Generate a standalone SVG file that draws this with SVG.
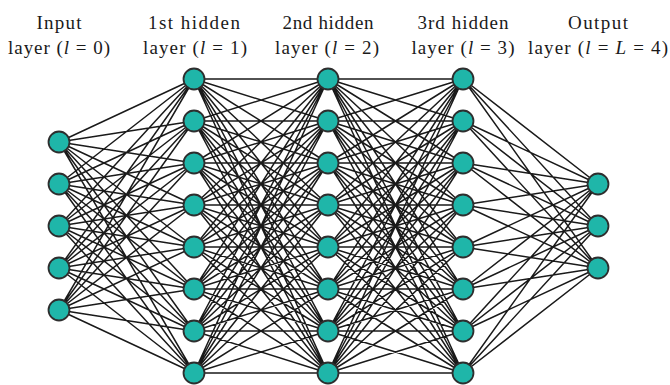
<svg xmlns="http://www.w3.org/2000/svg" width="670" height="385" viewBox="0 0 670 385">
<style>
.t{font-family:"Liberation Serif","Times New Roman",serif;font-size:19px;fill:#1a1a1a;text-anchor:middle}
.i{font-style:italic}
.e{fill:none;stroke:#1a1a1a;stroke-width:1.5}
.n circle{fill:#1fb6a9;stroke:#2e2e2e;stroke-width:1.8}
</style>
<rect width="670" height="385" fill="#fff"/>
<g id="labels">
<text class="t" x="59" y="29" textLength="45" lengthAdjust="spacing">Input</text>
<text class="t" x="59" y="54" textLength="102" lengthAdjust="spacing">layer (<tspan class="i">l</tspan> = 0)</text>
<text class="t" x="194" y="29" textLength="92" lengthAdjust="spacing">1st hidden</text>
<text class="t" x="195" y="54" textLength="104" lengthAdjust="spacing">layer (<tspan class="i">l</tspan> = 1)</text>
<text class="t" x="328" y="29" textLength="91" lengthAdjust="spacing">2nd hidden</text>
<text class="t" x="327" y="54" textLength="104" lengthAdjust="spacing">layer (<tspan class="i">l</tspan> = 2)</text>
<text class="t" x="463" y="29" textLength="91" lengthAdjust="spacing">3rd hidden</text>
<text class="t" x="463" y="54" textLength="103" lengthAdjust="spacing">layer (<tspan class="i">l</tspan> = 3)</text>
<text class="t" x="598" y="29" textLength="60" lengthAdjust="spacing">Output</text>
<text class="t" x="598" y="54" textLength="140" lengthAdjust="spacing">layer (<tspan class="i">l</tspan> = <tspan class="i">L</tspan> = 4)</text>
</g>
<g id="connectors" class="e">
<path class="e" d="M59 142l135-63M59 142l135-21M59 142l135 21M59 142l135 63M59 142l135 105M59 142l135 147M59 142l135 189M59 142l135 231
M59 184l135-105M59 184l135-63M59 184l135-21M59 184l135 21M59 184l135 63M59 184l135 105M59 184l135 147M59 184l135 189
M59 226l135-147M59 226l135-105M59 226l135-63M59 226l135-21M59 226l135 21M59 226l135 63M59 226l135 105M59 226l135 147
M59 268l135-189M59 268l135-147M59 268l135-105M59 268l135-63M59 268l135-21M59 268l135 21M59 268l135 63M59 268l135 105
M59 310l135-231M59 310l135-189M59 310l135-147M59 310l135-105M59 310l135-63M59 310l135-21M59 310l135 21M59 310l135 63"/>
<path class="e" d="M194 79l134 0M194 79l134 42M194 79l134 84M194 79l134 126M194 79l134 168M194 79l134 210M194 79l134 252M194 79l134 294
M194 121l134-42M194 121l134 0M194 121l134 42M194 121l134 84M194 121l134 126M194 121l134 168M194 121l134 210M194 121l134 252
M194 163l134-84M194 163l134-42M194 163l134 0M194 163l134 42M194 163l134 84M194 163l134 126M194 163l134 168M194 163l134 210
M194 205l134-126M194 205l134-84M194 205l134-42M194 205l134 0M194 205l134 42M194 205l134 84M194 205l134 126M194 205l134 168
M194 247l134-168M194 247l134-126M194 247l134-84M194 247l134-42M194 247l134 0M194 247l134 42M194 247l134 84M194 247l134 126
M194 289l134-210M194 289l134-168M194 289l134-126M194 289l134-84M194 289l134-42M194 289l134 0M194 289l134 42M194 289l134 84
M194 331l134-252M194 331l134-210M194 331l134-168M194 331l134-126M194 331l134-84M194 331l134-42M194 331l134 0M194 331l134 42
M194 373l134-294M194 373l134-252M194 373l134-210M194 373l134-168M194 373l134-126M194 373l134-84M194 373l134-42M194 373l134 0"/>
<path class="e" d="M328 79l135 0M328 79l135 42M328 79l135 84M328 79l135 126M328 79l135 168M328 79l135 210M328 79l135 252M328 79l135 294
M328 121l135-42M328 121l135 0M328 121l135 42M328 121l135 84M328 121l135 126M328 121l135 168M328 121l135 210M328 121l135 252
M328 163l135-84M328 163l135-42M328 163l135 0M328 163l135 42M328 163l135 84M328 163l135 126M328 163l135 168M328 163l135 210
M328 205l135-126M328 205l135-84M328 205l135-42M328 205l135 0M328 205l135 42M328 205l135 84M328 205l135 126M328 205l135 168
M328 247l135-168M328 247l135-126M328 247l135-84M328 247l135-42M328 247l135 0M328 247l135 42M328 247l135 84M328 247l135 126
M328 289l135-210M328 289l135-168M328 289l135-126M328 289l135-84M328 289l135-42M328 289l135 0M328 289l135 42M328 289l135 84
M328 331l135-252M328 331l135-210M328 331l135-168M328 331l135-126M328 331l135-84M328 331l135-42M328 331l135 0M328 331l135 42
M328 373l135-294M328 373l135-252M328 373l135-210M328 373l135-168M328 373l135-126M328 373l135-84M328 373l135-42M328 373l135 0"/>
<path class="e" d="M463 79l135 105M463 79l135 147M463 79l135 189
M463 121l135 63M463 121l135 105M463 121l135 147
M463 163l135 21M463 163l135 63M463 163l135 105
M463 205l135-21M463 205l135 21M463 205l135 63
M463 247l135-63M463 247l135-21M463 247l135 21
M463 289l135-105M463 289l135-63M463 289l135-21
M463 331l135-147M463 331l135-105M463 331l135-63
M463 373l135-189M463 373l135-147M463 373l135-105"/>
</g>
<g class="n">
<g id="in1"><circle cx="59" cy="142" r="10.5"/></g>
<g id="in2"><circle cx="59" cy="184" r="10.5"/></g>
<g id="in3"><circle cx="59" cy="226" r="10.5"/></g>
<g id="in4"><circle cx="59" cy="268" r="10.5"/></g>
<g id="in5"><circle cx="59" cy="310" r="10.5"/></g>
<g id="h1_1"><circle cx="194" cy="79" r="10.5"/></g>
<g id="h1_2"><circle cx="194" cy="121" r="10.5"/></g>
<g id="h1_3"><circle cx="194" cy="163" r="10.5"/></g>
<g id="h1_4"><circle cx="194" cy="205" r="10.5"/></g>
<g id="h1_5"><circle cx="194" cy="247" r="10.5"/></g>
<g id="h1_6"><circle cx="194" cy="289" r="10.5"/></g>
<g id="h1_7"><circle cx="194" cy="331" r="10.5"/></g>
<g id="h1_8"><circle cx="194" cy="373" r="10.5"/></g>
<g id="h2_1"><circle cx="328" cy="79" r="10.5"/></g>
<g id="h2_2"><circle cx="328" cy="121" r="10.5"/></g>
<g id="h2_3"><circle cx="328" cy="163" r="10.5"/></g>
<g id="h2_4"><circle cx="328" cy="205" r="10.5"/></g>
<g id="h2_5"><circle cx="328" cy="247" r="10.5"/></g>
<g id="h2_6"><circle cx="328" cy="289" r="10.5"/></g>
<g id="h2_7"><circle cx="328" cy="331" r="10.5"/></g>
<g id="h2_8"><circle cx="328" cy="373" r="10.5"/></g>
<g id="h3_1"><circle cx="463" cy="79" r="10.5"/></g>
<g id="h3_2"><circle cx="463" cy="121" r="10.5"/></g>
<g id="h3_3"><circle cx="463" cy="163" r="10.5"/></g>
<g id="h3_4"><circle cx="463" cy="205" r="10.5"/></g>
<g id="h3_5"><circle cx="463" cy="247" r="10.5"/></g>
<g id="h3_6"><circle cx="463" cy="289" r="10.5"/></g>
<g id="h3_7"><circle cx="463" cy="331" r="10.5"/></g>
<g id="h3_8"><circle cx="463" cy="373" r="10.5"/></g>
<g id="out1"><circle cx="598" cy="184" r="10.5"/></g>
<g id="out2"><circle cx="598" cy="226" r="10.5"/></g>
<g id="out3"><circle cx="598" cy="268" r="10.5"/></g>
</g>
</svg>
